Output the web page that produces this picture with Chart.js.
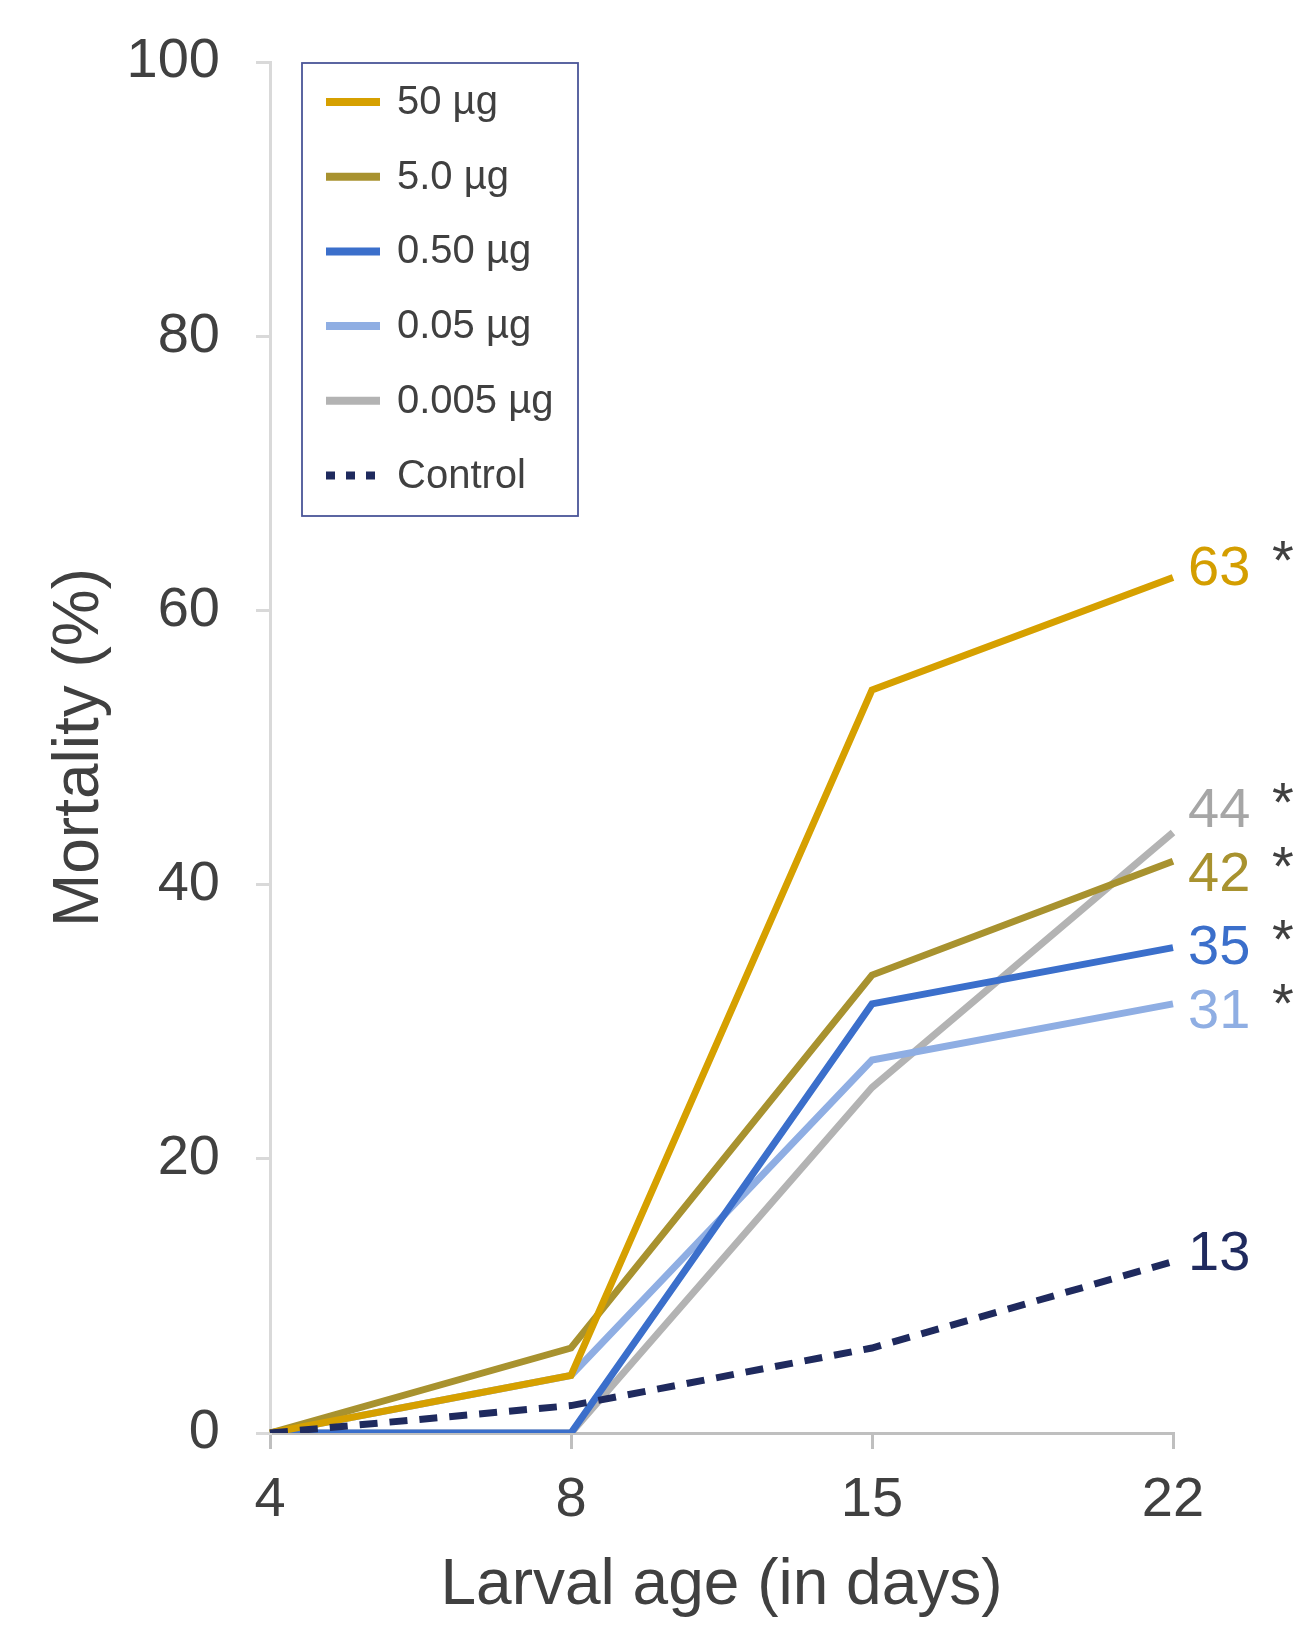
<!DOCTYPE html>
<html>
<head>
<meta charset="utf-8">
<script src="https://cdn.jsdelivr.net/npm/chart.js@4.4.1/dist/chart.umd.min.js"></script>
<style>
  html, body { margin: 0; padding: 0; background: #ffffff; }
  #wrap { width: 1306px; height: 1628px; }
</style>
</head>
<body>
<div id="wrap"><canvas id="c" width="1306" height="1628"></canvas></div>
<script>
// ---- data ----
const categories = ['4', '8', '15', '22'];
const seriesNames = ['50 µg', '5.0 µg', '0.50 µg', '0.05 µg', '0.005 µg', 'Control'];
const s50 = [0, 4.2, 54.2, 62.4];
const s5 = [0, 6.2, 33.4, 41.7];
const s050 = [0, 0, 31.3, 35.4];
const s005 = [0, 4.2, 27.2, 31.3];
const s0005 = [0, 0, 25.2, 43.8];
const sControl = [0, 2.0, 6.2, 12.5];
const endLabels = ['63', '42', '35', '31', '44', '13'];
const endLabelValues = [63, 42, 35, 31, 44, 13];
const significant = [true, true, true, true, true, false];
const yTicks = [0, 20, 40, 60, 80, 100];
const xTitle = 'Larval age (in days)';
const yTitle = 'Mortality (%)';

// ---- styles ----
const FONT = '"Liberation Sans", Arial, sans-serif';
const TEXT = '#404040';
const colors = ['#D6A000', '#A8922F', '#3B6FCB', '#8FAEE3', '#B3B3B3', '#1F2A5E'];
const labelColors = ['#D49E00', '#A8922F', '#3B6FCB', '#8FAEE3', '#A6A6A6', '#1F2A5E'];
const drawOrder = [1, 2, 3, 4, 5, 0];
const allSeries = [s50, s5, s050, s005, s0005, sControl];

const datasets = allSeries.map((vals, i) => ({
  label: seriesNames[i],
  data: vals,
  borderColor: colors[i],
  backgroundColor: colors[i],
  borderWidth: 7,
  borderDash: i === 5 ? [18, 12] : [],
  pointRadius: 0,
  pointHoverRadius: 0,
  tension: 0,
  fill: false,
  order: drawOrder[i]
}));

const legendPlugin = {
  id: 'boxLegend',
  afterDraw(chart) {
    const ctx = chart.ctx;
    const bx = 302, by = 63, bw = 276, bh = 453;
    ctx.save();
    ctx.fillStyle = '#ffffff';
    ctx.fillRect(bx, by, bw, bh);
    ctx.strokeStyle = '#4A5598';
    ctx.lineWidth = 1.8;
    ctx.strokeRect(bx, by, bw, bh);
    const y0 = 102, dy = 74.7;
    seriesNames.forEach((name, i) => {
      const y = y0 + i * dy;
      ctx.beginPath();
      ctx.strokeStyle = colors[i];
      ctx.lineWidth = 8;
      ctx.lineCap = 'butt';
      if (i === 5) ctx.setLineDash([9, 11]); else ctx.setLineDash([]);
      ctx.moveTo(326, y);
      ctx.lineTo(380, y);
      ctx.stroke();
      ctx.setLineDash([]);
      ctx.fillStyle = TEXT;
      ctx.font = '40px ' + FONT;
      ctx.textAlign = 'left';
      ctx.textBaseline = 'middle';
      ctx.fillText(name, 397, y + 1);
    });
    ctx.restore();
  }
};

const endLabelPlugin = {
  id: 'endLabels',
  afterDatasetsDraw(chart) {
    const ctx = chart.ctx;
    const xs = chart.scales.x, ys = chart.scales.y;
    const lastX = xs.getPixelForValue(categories.length - 1);
    const items = endLabels.map((t, i) => ({ t, i, y: ys.getPixelForValue(endLabelValues[i]) }));
    items.sort((a, b) => a.y - b.y);
    const gap = 64;
    for (let iter = 0; iter < 10; iter++) {
      for (let k = 1; k < items.length; k++) {
        if (items[k].y - items[k - 1].y < gap) {
          const mid = (items[k].y + items[k - 1].y) / 2;
          items[k - 1].y = mid - gap / 2;
          items[k].y = mid + gap / 2;
        }
      }
    }
    ctx.save();
    ctx.font = '56px ' + FONT;
    ctx.textAlign = 'left';
    ctx.textBaseline = 'middle';
    items.forEach(it => {
      const x = lastX + 15;
      ctx.fillStyle = labelColors[it.i];
      ctx.fillText(it.t, x, it.y);
      if (significant[it.i]) {
        ctx.fillStyle = TEXT;
        ctx.fillText('*', x + 84, it.y - 6);
      }
    });
    ctx.restore();
  }
};

new Chart(document.getElementById('c'), {
  type: 'line',
  data: { labels: categories, datasets },
  options: {
    responsive: false,
    animation: false,
    devicePixelRatio: 1,
    layout: { padding: { left: 0, right: 133, top: 62, bottom: 0 } },
    plugins: { legend: { display: false }, tooltip: { enabled: false } },
    scales: {
      x: {
        type: 'category',
        offset: false,
        grid: { display: true, drawOnChartArea: false, drawTicks: true, tickLength: 16, color: '#BFBFBF', lineWidth: 3 },
        border: { display: true, color: '#BFBFBF', width: 3 },
        ticks: { color: TEXT, font: { size: 56, family: FONT }, padding: 18, maxRotation: 0, autoSkip: false },
        title: { display: true, text: xTitle, color: TEXT, font: { size: 64, family: FONT }, padding: { top: 0, bottom: 3 } },
        afterFit(scale) { scale.height = 195; scale.paddingLeft = 0; scale.paddingRight = 0; }
      },
      y: {
        min: 0, max: 100,
        afterBuildTicks(scale) { scale.ticks = yTicks.map(v => ({ value: v })); },
        grid: { display: true, drawOnChartArea: false, drawTicks: true, tickLength: 14, color: '#D9D9D9', lineWidth: 3 },
        border: { display: true, color: '#D9D9D9', width: 3 },
        ticks: { color: TEXT, font: { size: 56, family: FONT }, padding: 36 },
        title: { display: true, text: yTitle, color: TEXT, font: { size: 64, family: FONT }, padding: { top: 42, bottom: 0 } },
        afterFit(scale) { scale.width = 270; scale.paddingTop = 0; scale.paddingBottom = 0; }
      }
    }
  },
  plugins: [endLabelPlugin, legendPlugin]
});
</script>
</body>
</html>
